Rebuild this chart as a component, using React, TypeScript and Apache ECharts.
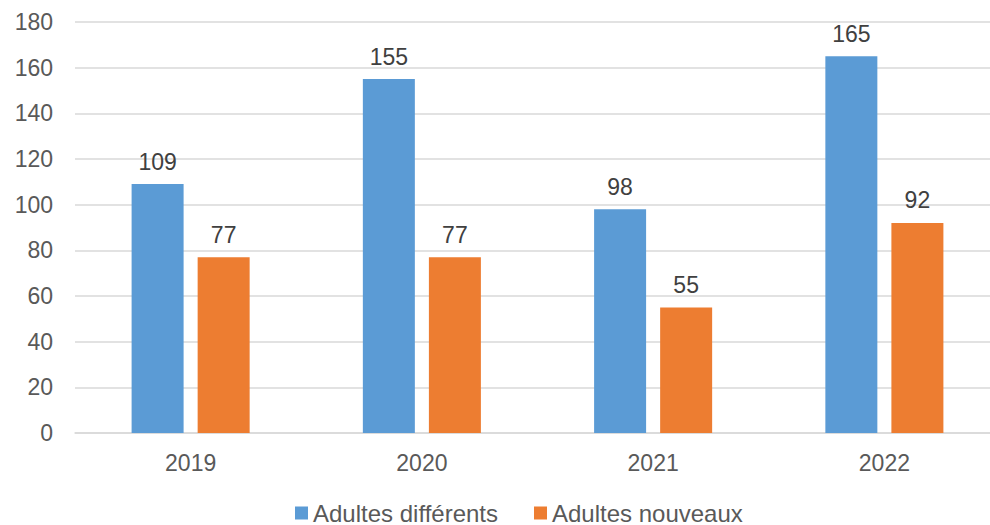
import React, { useEffect, useRef } from "react";
import * as echarts from "echarts";

const categories = ["2019", "2020", "2021", "2022"];
const seriesNames = ["Adultes différents", "Adultes nouveaux"];
const adultesDifferents = [109, 155, 98, 165];
const adultesNouveaux = [77, 77, 55, 92];
const colors = ["#5B9BD5", "#ED7D31"];

export default function App() {
  const ref = useRef<HTMLDivElement>(null);
  useEffect(() => {
    if (!ref.current) return;
    const chart = echarts.init(ref.current, null, { renderer: "svg" });
    const font = "Liberation Sans, Arial, sans-serif";
    const labelCfg = {
      show: true,
      position: "top",
      distance: 11,
      color: "#404040",
      fontSize: 23,
      fontFamily: font,
    };
    chart.setOption({
      animation: false,
      backgroundColor: "#ffffff",
      grid: { left: 75, right: 0, top: 22, bottom: 92, containLabel: false },
      legend: {
        data: seriesNames,
        left: 290,
        top: 496,
        itemWidth: 13,
        itemHeight: 13,
        itemGap: 36,
        icon: "rect",
        textStyle: { color: "#595959", fontSize: 24, fontFamily: font },
      },
      xAxis: {
        type: "category",
        data: categories,
        axisTick: { show: false },
        axisLine: { lineStyle: { color: "#d9d9d9", width: 1.5 } },
        axisLabel: { color: "#595959", fontSize: 23, fontFamily: font, margin: 18 },
      },
      yAxis: {
        type: "value",
        min: 0,
        max: 180,
        interval: 20,
        axisLine: { show: false },
        axisTick: { show: false },
        splitLine: { lineStyle: { color: "#d9d9d9", width: 1.5 } },
        axisLabel: { color: "#595959", fontSize: 23, fontFamily: font, margin: 22 },
      },
      series: [
        {
          name: seriesNames[0],
          type: "bar",
          data: adultesDifferents,
          barWidth: 52,
          barGap: "27%",
          itemStyle: { color: colors[0] },
          label: labelCfg,
        },
        {
          name: seriesNames[1],
          type: "bar",
          data: adultesNouveaux,
          barWidth: 52,
          barGap: "27%",
          itemStyle: { color: colors[1] },
          label: labelCfg,
        },
      ],
    });
    return () => chart.dispose();
  }, []);
  return (
    <div style={{ position: "fixed", left: 0, top: 0, width: 990, height: 525, overflow: "hidden", background: "#fff" }}>
      <div ref={ref} style={{ position: "absolute", left: 0, top: 0, width: 1000, height: 525 }} />
    </div>
  );
}
